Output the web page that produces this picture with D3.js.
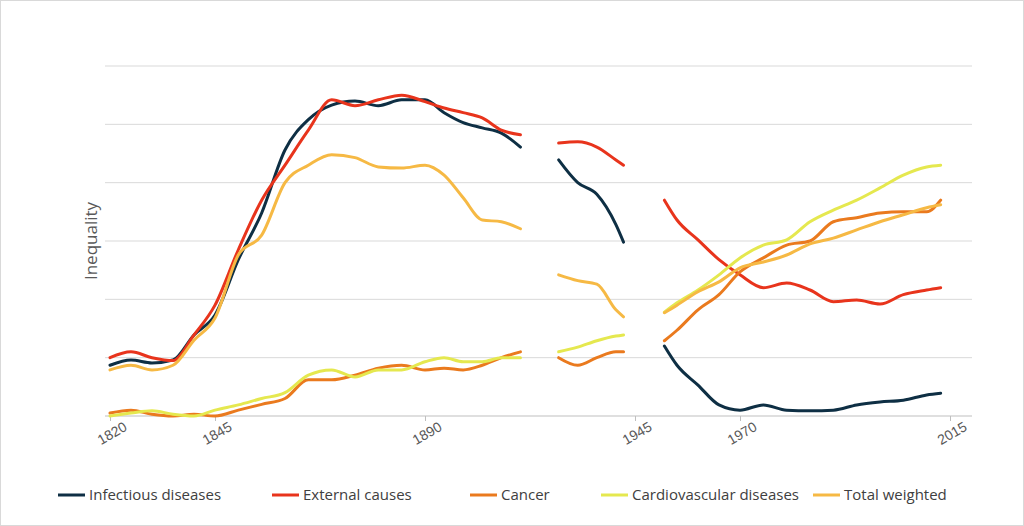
<!DOCTYPE html>
<html><head><meta charset="utf-8">
<script src="https://cdn.jsdelivr.net/npm/d3@7"></script>
<style>body{margin:0;background:#fff;font-family:"Open Sans",Roboto,sans-serif}</style>
</head><body><div id="chart"></div>
<script>
// --- Dados ---
const yearsA = [1820,1825,1830,1835,1840,1845,1850,1855,1860,1865,1870,1875,1880,1885,1890,1895,1900,1905,1910,1915];
const yearsB = [1925,1930,1935,1940,1942];
const yearsC = [1952,1955,1960,1965,1970,1975,1980,1985,1990,1995,2000,2005,2010,2013];

const infectious = [
  [0.87,0.96,0.91,0.96,1.39,1.73,2.68,3.48,4.56,5.08,5.33,5.4,5.32,5.42,5.42,5.2,5.03,4.94,4.85,4.61],
  [4.39,4.0,3.8,3.28,2.98],
  [1.2,0.87,0.53,0.19,0.1,0.19,0.1,0.09,0.1,0.19,0.24,0.27,0.36,0.39]];
const external = [
  [1.0,1.1,1.0,0.95,1.39,1.9,2.85,3.7,4.3,4.9,5.42,5.32,5.42,5.5,5.39,5.28,5.2,5.11,4.9,4.82],
  [4.68,4.7,4.61,4.39,4.3],
  [3.7,3.36,3.02,2.68,2.42,2.2,2.28,2.16,1.96,1.99,1.92,2.08,2.16,2.2]];
const cancer = [
  [0.05,0.1,0.03,0,0.03,0,0.1,0.2,0.3,0.62,0.62,0.7,0.82,0.87,0.79,0.82,0.79,0.87,1.0,1.1],
  [1.0,0.87,1.0,1.1,1.1],
  [1.29,1.47,1.82,2.08,2.47,2.71,2.93,3.0,3.33,3.4,3.48,3.5,3.5,3.7]];
const cardio = [
  [0,0.05,0.09,0.03,0,0.1,0.19,0.3,0.4,0.7,0.79,0.67,0.79,0.79,0.93,1.0,0.93,0.93,1.0,1.0],
  [1.1,1.18,1.29,1.37,1.39],
  [1.78,1.94,2.16,2.42,2.71,2.93,3.02,3.33,3.53,3.7,3.91,4.13,4.27,4.3]];
const total = [
  [0.79,0.87,0.79,0.87,1.3,1.68,2.76,3.1,4.0,4.3,4.48,4.43,4.27,4.25,4.3,4.13,3.74,3.36,3.33,3.21],
  [2.42,2.32,2.26,1.82,1.7],
  [1.77,1.9,2.13,2.3,2.54,2.64,2.76,2.95,3.05,3.19,3.33,3.45,3.57,3.62]];

const seriesNames = ["Infectious diseases","External causes","Cancer","Cardiovascular diseases","Total weighted"];
const seriesData = [infectious, external, cancer, cardio, total];
const colors = ["#0e2f44","#e8341c","#ea7a1e","#e5e84f","#f6b944"];
const tickYears = [1820,1845,1890,1945,1970,2015];
const yTicks = [0,1,2,3,4,5,6];

const W = 1024, H = 526;
const svg = d3.select("#chart").append("svg").attr("width", W).attr("height", H);
svg.append("rect").attr("x",0.5).attr("y",0.5).attr("width",W-1).attr("height",H-1)
  .attr("fill","#fff").attr("stroke","#d9d9d9");

// eixo x não-linear (categorias do Excel)
const x = d3.scaleLinear().domain(tickYears).range([110,215,425,635,740,950]);
const y = d3.scaleLinear().domain([0,6]).range([416,66]);

svg.selectAll("line.grid").data(yTicks.slice(1)).enter().append("line")
  .attr("x1",105).attr("x2",972).attr("y1",d=>y(d)).attr("y2",d=>y(d))
  .attr("stroke","#d9d9d9");

const xAxis = svg.append("g").attr("transform","translate(0,416)")
  .call(d3.axisBottom(x).tickValues(tickYears).tickFormat(d3.format("d")).tickSize(5));
xAxis.select(".domain").attr("stroke","#bfbfbf").attr("d","M105,0H972");
xAxis.selectAll(".tick line").attr("stroke","#bfbfbf");
xAxis.selectAll("text").attr("font-size",14).attr("fill","#595959")
  .attr("text-anchor","end").attr("dx","0.6em").attr("dy","0.9em")
  .attr("transform","rotate(-30)");

svg.append("text").attr("transform","translate(97,241) rotate(-90)")
  .attr("text-anchor","middle").attr("font-size",17).attr("fill","#595959").text("Inequality");

const line = d3.line().x(d=>x(d[0])).y(d=>y(d[1])).curve(d3.curveMonotoneX);
const segYears = [yearsA, yearsB, yearsC];
seriesData.forEach((segs,i) => {
  segs.forEach((vals,j) => {
    svg.append("path").datum(vals.map((v,k)=>[segYears[j][k],v]))
      .attr("d",line).attr("fill","none").attr("stroke",colors[i])
      .attr("stroke-width",3).attr("stroke-linecap","round");
  });
});

const legendX = [58,272,470,601,813];
const lg = svg.selectAll("g.lg").data(seriesNames).enter().append("g")
  .attr("transform",(d,i)=>`translate(${legendX[i]},495)`);
lg.append("line").attr("x1",0).attr("x2",27).attr("stroke",(d,i)=>colors[i]).attr("stroke-width",3);
lg.append("text").attr("x",31).attr("dy","0.35em").attr("font-size",15).attr("fill","#404040").text(d=>d);
</script></body></html>
